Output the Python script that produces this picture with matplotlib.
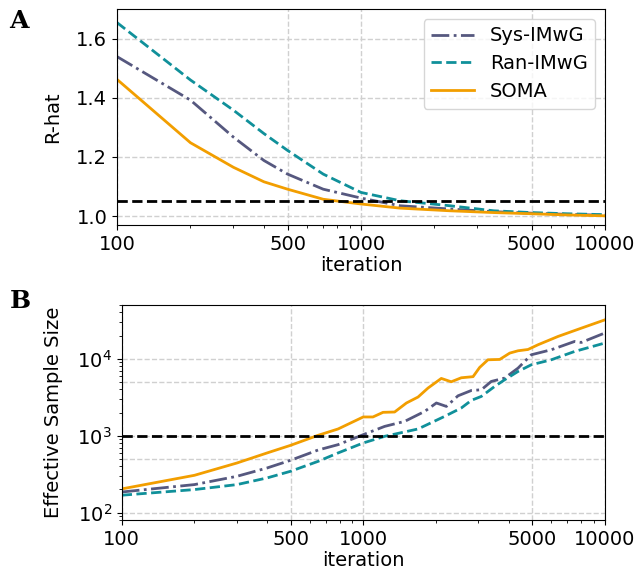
import numpy as np
import matplotlib
matplotlib.use('Agg')
import matplotlib.pyplot as plt

# colours for the three samplers
c_sys = '#56587f'
c_ran = '#10909a'
c_soma = '#f29e00'

# R-hat vs iteration
rhat_it = [100, 200, 300, 400, 500, 700, 1000, 1445, 2317, 3500, 5000, 7000, 10000]
rhat_sys = [1.539, 1.392, 1.267, 1.188, 1.142, 1.091, 1.061, 1.035, 1.024, 1.015, 1.010, 1.006, 1.003]
rhat_ran = [1.654, 1.460, 1.358, 1.279, 1.222, 1.142, 1.080, 1.052, 1.035, 1.018, 1.012, 1.008, 1.005]
rhat_soma = [1.462, 1.248, 1.165, 1.116, 1.091, 1.057, 1.041, 1.027, 1.018, 1.012, 1.008, 1.004, 1.001]

# effective sample size vs iteration
ess_soma_it = [100, 200, 300, 400, 500, 650, 787, 1000, 1097, 1208, 1349, 1510, 1687, 1855, 2105,
               2315, 2548, 2850, 3035, 3285, 3675, 4044, 4377, 4812, 5293, 6407, 8000, 10000]
ess_soma = [203, 305, 441, 596, 748, 1010, 1222, 1750, 1750, 2010, 2030, 2660, 3180, 4160, 5550,
            5020, 5660, 5850, 7710, 9700, 9800, 11850, 12700, 13200, 15200, 19500, 25000, 32000]

ess_sys_it = [100, 200, 300, 400, 500, 650, 787, 1000, 1227, 1486, 1798, 2009, 2210, 2470, 2805,
              3085, 3390, 3852, 4377, 4966, 6010, 7510, 8000, 10000]
ess_sys = [185, 231, 296, 380, 478, 650, 764, 1030, 1320, 1535, 2070, 2660, 2400, 3300, 3870,
           3950, 5070, 5610, 7560, 11270, 13100, 16800, 16300, 21600]

ess_ran_it = [100, 200, 300, 400, 500, 650, 787, 1000, 1227, 1687, 2172, 2548, 2805, 3085, 3500,
              3852, 4377, 4966, 6010, 7510, 10000]
ess_ran = [168, 199, 231, 282, 344, 463, 596, 803, 980, 1222, 1780, 2290, 2880, 3240, 4360,
           5330, 6840, 8350, 9700, 12450, 16000]

xticks = [100, 500, 1000, 5000, 10000]

plt.rcParams['font.size'] = 14
fig = plt.figure(figsize=(6.38, 5.79), dpi=100)
ax1 = fig.add_axes([0.1834, 0.6114, 0.7649, 0.3731])
ax2 = fig.add_axes([0.1908, 0.1019, 0.7570, 0.3713])

grid_kw = dict(color='#d0d0d0', linestyle='--', linewidth=1.0)

# panel A
ax1.plot(rhat_it, rhat_sys, color=c_sys, linestyle='-.', linewidth=2, label='Sys-IMwG')
ax1.plot(rhat_it, rhat_ran, color=c_ran, linestyle='--', linewidth=2, label='Ran-IMwG')
ax1.plot(rhat_it, rhat_soma, color=c_soma, linestyle='-', linewidth=2, label='SOMA')
ax1.axhline(1.05, color='black', linestyle='--', linewidth=2)
ax1.set_xscale('log')
ax1.set_xlim(100, 10000)
ax1.set_ylim(0.97, 1.70)
ax1.set_yticks([1.0, 1.2, 1.4, 1.6])
ax1.set_xticks(xticks)
ax1.set_xticklabels([str(t) for t in xticks])
ax1.grid(True, **grid_kw)
ax1.set_axisbelow(True)
ax1.set_xlabel('iteration')
ax1.set_ylabel('R-hat', labelpad=10)
ax1.legend(loc='upper right', fontsize=14, framealpha=0.8, edgecolor='#cccccc',
           handlelength=2.2, borderpad=0.4, labelspacing=0.45)

# panel B
ax2.plot(ess_sys_it, ess_sys, color=c_sys, linestyle='-.', linewidth=2)
ax2.plot(ess_ran_it, ess_ran, color=c_ran, linestyle='--', linewidth=2)
ax2.plot(ess_soma_it, ess_soma, color=c_soma, linestyle='-', linewidth=2)
ax2.axhline(1000, color='black', linestyle='--', linewidth=2)
ax2.set_xscale('log')
ax2.set_yscale('log')
ax2.set_xlim(100, 10000)
ax2.set_ylim(80, 50000)
ax2.set_xticks(xticks)
ax2.set_xticklabels([str(t) for t in xticks])
ax2.grid(True, **grid_kw)
for yv in [500, 5000]:
    ax2.axhline(yv, zorder=0, **grid_kw)
ax2.set_axisbelow(True)
ax2.set_xlabel('iteration')
ax2.set_ylabel('Effective Sample Size', labelpad=10)

for ax in (ax1, ax2):
    ax.tick_params(which='both', direction='out')
    ax.xaxis.labelpad = 2

fig.text(0.015, 0.985, 'A', fontsize=18, fontweight='bold', family='DejaVu Serif', va='top')
fig.text(0.015, 0.500, 'B', fontsize=18, fontweight='bold', family='DejaVu Serif', va='top')

fig.savefig('out.png', dpi=100)
